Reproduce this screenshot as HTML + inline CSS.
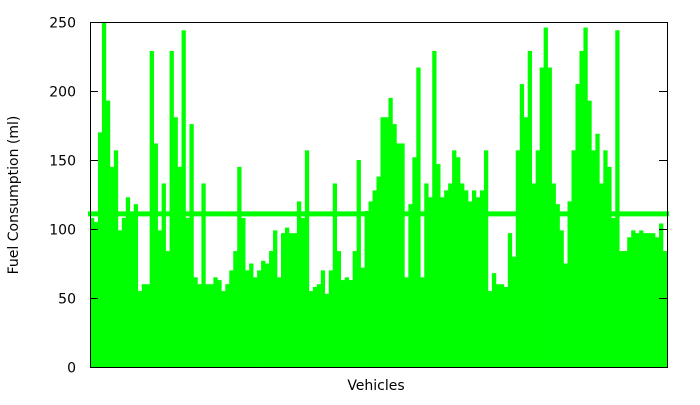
<!DOCTYPE html>
<html><head><meta charset="utf-8"><style>
body{margin:0;background:#fff}
svg text{font-family:"DejaVu Sans","Liberation Sans",sans-serif;font-size:14px;fill:#000}
</style></head><body>
<svg id="chart" width="700" height="400" xmlns="http://www.w3.org/2000/svg">
<g id="bars"></g>
<line id="avg" stroke="#00ff00" stroke-width="5"/>
<g id="axes"></g>
<rect x="90.5" y="22.5" width="577" height="345" fill="none" stroke="#000" stroke-width="1"/>
<text x="376" y="390" text-anchor="middle">Vehicles</text>
<text transform="translate(18,195) rotate(-90)" text-anchor="middle">Fuel Consumption (ml)</text>
</svg>
<script>
const values = [108,105,170,250,193,145,157,99,108,123,111,118,55,60,60,229,162,99,133,84,229,181,145,244,108,176,65,60,133,60,60,65,63,55,60,70,84,145,108,70,75,65,70,77,75,84,99,65,97,101,
97,97,120,108,157,55,58,60,70,53,70,133,84,63,65,63,84,150,72,113,120,128,138,181,181,195,176,162,162,65,118,152,217,65,133,123,229,147,123,128,133,157,152,133,128,120,128,123,
128,157,55,68,60,60,58,97,80,157,205,181,229,133,157,217,246,217,133,118,99,75,120,157,205,229,246,193,157,169,133,157,145,108,244,84,84,94,99,97,99,97,97,97,94,104,84];
const average = [111];
const yTicks = [0,50,100,150,200,250];
const X0=90, X1=667, Y0=367, Y1=22, YMAX=250;
const y = v => Y0 - (Math.min(v,YMAX)/YMAX)*(Y0-Y1);
const bw = (X1-X0)/values.length;
const xb = i => X0 + i*bw;
const NS="http://www.w3.org/2000/svg";
const bars=document.getElementById('bars');
values.forEach((v,i)=>{
  const r=document.createElementNS(NS,'rect');
  
  
  r.setAttribute('x',xb(i));r.setAttribute('width',bw+0.3);
  r.setAttribute('y',y(v));r.setAttribute('height',Y0-y(v));
  r.setAttribute('fill','#00ff00');
  bars.appendChild(r);
});
const avg=document.getElementById('avg');
avg.setAttribute('x1',X0-2);avg.setAttribute('x2',X1+2);
avg.setAttribute('y1',y(average[0]));avg.setAttribute('y2',y(average[0]));
const axes=document.getElementById('axes');
yTicks.forEach(t=>{
  const yy=Math.round(y(t))+0.5;
  [[X0,X0+8],[X1-8,X1]].forEach(([a,b])=>{
    const l=document.createElementNS(NS,'line');
    
    
    l.setAttribute('x1',a);l.setAttribute('x2',b);l.setAttribute('y1',yy);l.setAttribute('y2',yy);
    l.setAttribute('stroke','#000');
    axes.appendChild(l);
  });
  const tx=document.createElementNS(NS,'text');
  
  
  tx.setAttribute('x',76);tx.setAttribute('y',yy+5);tx.setAttribute('text-anchor','end');
  tx.textContent=t;
  axes.appendChild(tx);
});
</script>
</body></html>
